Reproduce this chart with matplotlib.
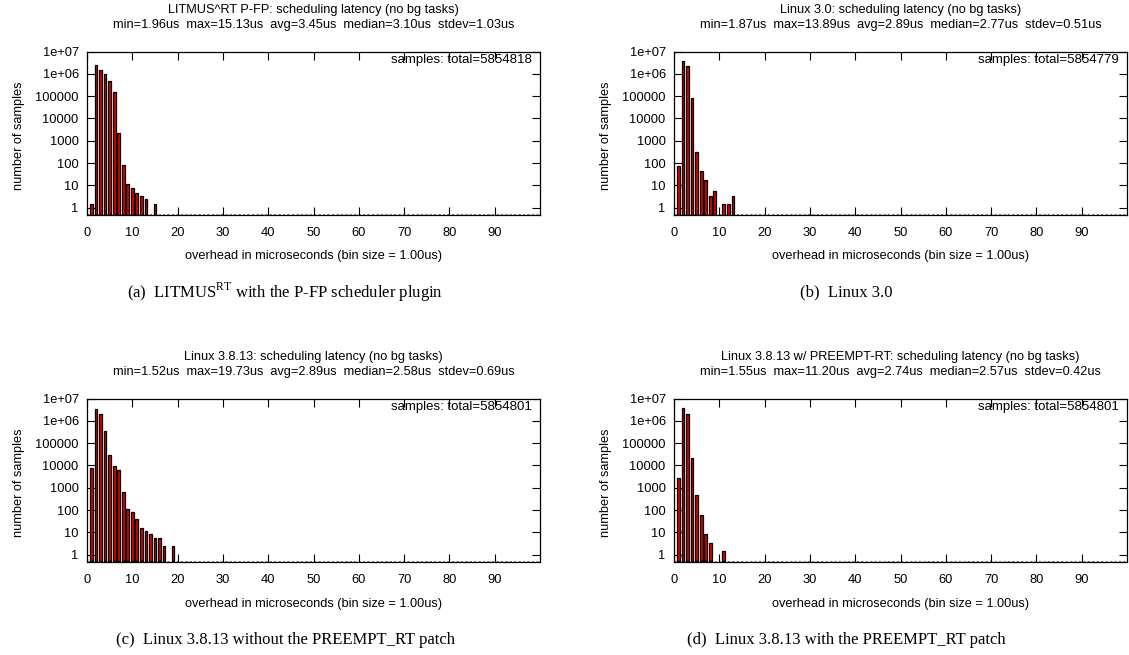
import numpy as np
import matplotlib
matplotlib.use('Agg')
import matplotlib.pyplot as plt
from matplotlib.ticker import FixedLocator, LogLocator, NullFormatter

plt.rcParams['font.family'] = ['Liberation Sans', 'DejaVu Sans']
plt.rcParams['mathtext.fontset'] = 'custom'
plt.rcParams['mathtext.rm'] = 'Liberation Serif'

W, H = 1129, 655

# histogram data: bin (us) -> number of samples
bins_a = [1, 2, 3, 4, 5, 6, 7, 8, 9, 10, 11, 12, 13, 15]
counts_a = [1, 2600000, 1550000, 1000000, 500000, 160000, 2200, 79, 11, 7, 4, 3, 2, 1]

bins_b = [1, 2, 3, 4, 5, 6, 7, 8, 9, 11, 12, 13]
counts_b = [74, 3600000, 2150000, 85000, 320, 42, 17, 3, 5, 1, 1, 3]

bins_c = [1, 2, 3, 4, 5, 6, 7, 8, 9, 10, 11, 12, 13, 14, 15, 16, 17, 19]
counts_c = [7900, 3400000, 2050000, 350000, 29000, 9100, 6300, 670, 110, 84, 38, 16, 11, 8, 5, 5, 2, 2]

bins_d = [1, 2, 3, 4, 5, 6, 7, 8, 11]
counts_d = [2700, 3900000, 1930000, 21000, 500, 58, 8, 3, 1]

titles = [
    'LITMUS^RT P-FP: scheduling latency (no bg tasks)',
    'Linux 3.0: scheduling latency (no bg tasks)',
    'Linux 3.8.13: scheduling latency (no bg tasks)',
    'Linux 3.8.13 w/ PREEMPT-RT: scheduling latency (no bg tasks)',
]
stats = [
    'min=1.96us  max=15.13us  avg=3.45us  median=3.10us  stdev=1.03us',
    'min=1.87us  max=13.89us  avg=2.89us  median=2.77us  stdev=0.51us',
    'min=1.52us  max=19.73us  avg=2.89us  median=2.58us  stdev=0.69us',
    'min=1.55us  max=11.20us  avg=2.74us  median=2.57us  stdev=0.42us',
]
totals = [5854818, 5854779, 5854801, 5854801]
captions = [
    r'(a)  LITMUS$^{\mathrm{RT}}$ with the P-FP scheduler plugin',
    '(b)  Linux 3.0',
    '(c)  Linux 3.8.13 without the PREEMPT_RT patch',
    '(d)  Linux 3.8.13 with the PREEMPT_RT patch',
]
ytick_vals = [1, 10, 100, 1000, 10000, 100000, 1e6, 1e7]
ytick_labels = ['1', '10', '100', '1000', '10000', '100000', '1e+06', '1e+07']
xtick_vals = list(range(0, 100, 10))

data = [(bins_a, counts_a), (bins_b, counts_b), (bins_c, counts_c), (bins_d, counts_d)]
# left, top of each axes in pixels
boxes = [(87, 51.5), (674, 51.5), (87, 398.5), (674, 398.5)]
aw, ah = 453, 163

fig = plt.figure(figsize=(W / 100, H / 100), dpi=100)

for i, ((bins, counts), (lx, ty)) in enumerate(zip(data, boxes)):
    ax = fig.add_axes([lx / W, 1 - (ty + ah) / H, aw / W, ah / H])
    bins = np.array(bins)
    # gnuplot-like shadow + box
    ax.bar(bins + 0.2, counts, width=0.6, bottom=0.5, color='#b0b0b0', lw=0, zorder=1)
    ax.bar(bins, counts, width=0.6, bottom=0.5, color='#e00000',
           edgecolor='black', linewidth=0.9, zorder=2)
    ax.axhline(0.54, color='#888888', lw=0.8, ls=(0, (2, 2)), zorder=0)
    ax.set_yscale('log')
    ax.set_ylim(0.5, 1e7)
    ax.set_xlim(0, 100)
    ax.yaxis.set_major_locator(FixedLocator(ytick_vals))
    ax.set_yticklabels(ytick_labels)
    ax.yaxis.set_minor_locator(LogLocator(base=10, subs=np.arange(2, 10)))
    ax.yaxis.set_minor_formatter(NullFormatter())
    ax.set_xticks(xtick_vals)
    ax.set_xticklabels([str(v) for v in xtick_vals])
    ax.tick_params(which='both', direction='in', top=True, right=True,
                   labelsize=9.3, width=0.8)
    ax.tick_params(axis='x', pad=9)
    ax.tick_params(axis='y', pad=6)
    ax.tick_params(which='major', length=6)
    ax.tick_params(which='minor', length=3)
    for sp in ax.spines.values():
        sp.set_linewidth(0.9)
    ax.text(0.982, 0.948, 'samples: total=%d' % totals[i], transform=ax.transAxes,
            ha='right', va='center', fontsize=9.5)

    cx = (lx + aw / 2) / W
    fig.text(cx, 1 - (ty - 41.5) / H, titles[i], ha='center', va='center', fontsize=9.2)
    fig.text(cx, 1 - (ty - 26.5) / H, stats[i], ha='center', va='center', fontsize=9.2)
    fig.text(cx, 1 - (ty + ah + 42) / H, 'overhead in microseconds (bin size = 1.00us)',
             ha='center', va='center', fontsize=9.2)
    fig.text((lx - 68) / W, 1 - (ty + 84) / H, 'number of samples', rotation=90,
             ha='center', va='center', fontsize=9.2)
    capx = 285 if lx < 500 else 846
    fig.text(capx / W, 1 - (ty + ah + 78) / H, captions[i], ha='center', va='center',
             fontsize=12, family=['Liberation Serif', 'DejaVu Serif'])

fig.savefig('out.png', dpi=100)
